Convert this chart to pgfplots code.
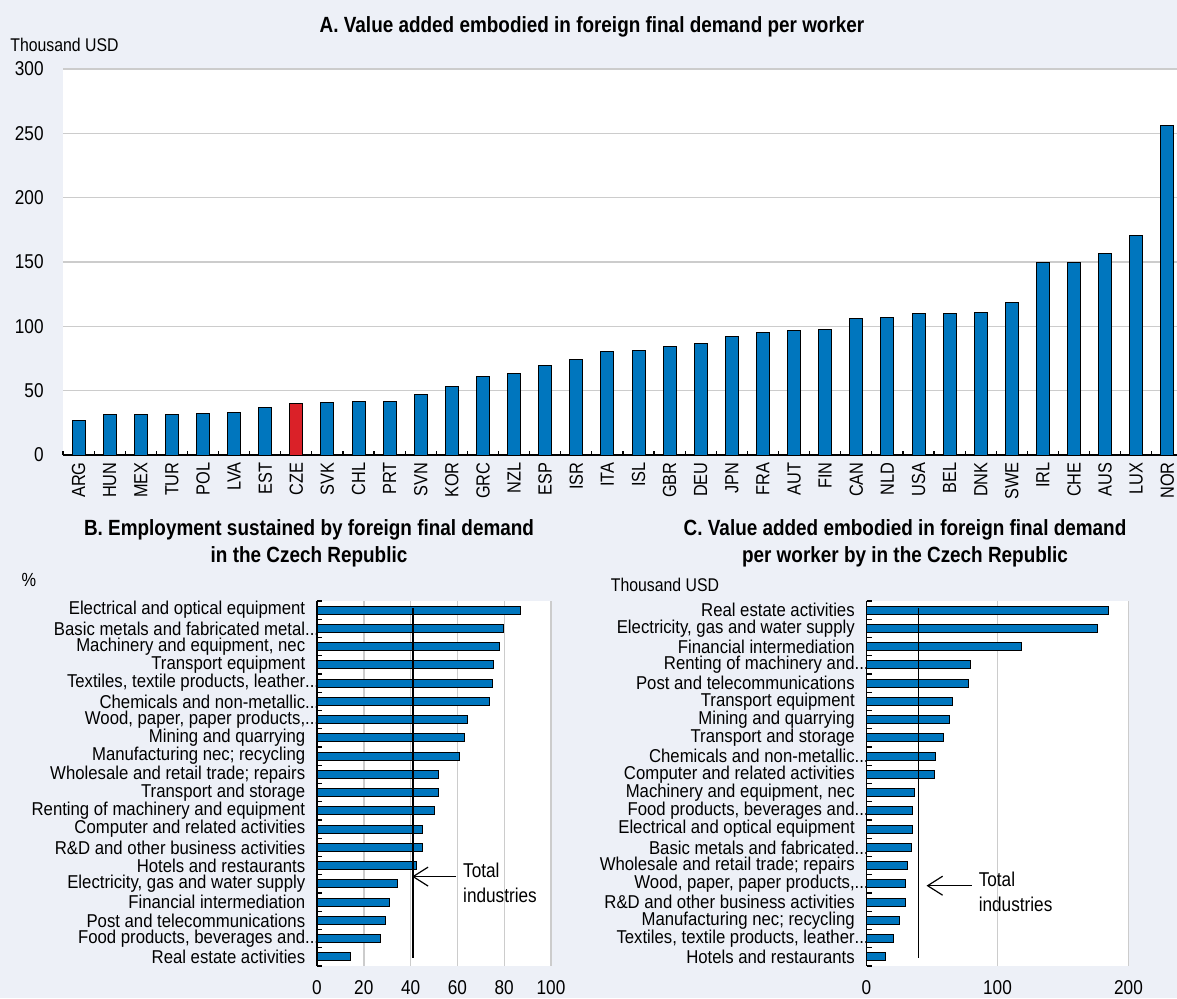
\documentclass[border=0pt]{standalone}
\usepackage{fontspec}
\setmainfont{Liberation Sans}[FakeStretch=0.86]
\newfontfamily\catfont{Liberation Sans}[FakeStretch=0.9]
\usepackage{pgfplots}
\pgfplotsset{compat=1.18}
\usetikzlibrary{arrows.meta}
\definecolor{bg}{RGB}{237,240,247}
\definecolor{oblue}{RGB}{0,118,190}
\definecolor{ored}{RGB}{218,33,40}
\definecolor{gridc}{RGB}{204,204,204}
\pgfplotsset{
  /pgf/number format/assume math mode=true,
  every minor tick/.append style={black, line width=0.6pt},
}
\begin{document}
\begin{tikzpicture}[x=1pt,y=1pt]
\fill[bg] (0,0) rectangle (588.5,499);
\useasboundingbox (0,0) rectangle (588.5,499);
% ---------- Panel A ----------
\begin{axis}[
  at={(31.5pt,271.5pt)}, anchor=south west,
  scale only axis, width=557pt, height=193pt,
  axis background/.style={fill=white},
  xmin=-0.5, xmax=35.31, ymin=0, ymax=300,
  ytick={0,50,...,300},
  ymajorgrids, grid style={gridc, line width=0.7pt},
  axis x line*=bottom, axis y line*=left,
  y axis line style={draw=none},
  x axis line style={black, line width=0.8pt},
  xtick={0,...,35},
  xticklabels={ARG,HUN,MEX,TUR,POL,LVA,EST,CZE,SVK,CHL,PRT,SVN,KOR,GRC,NZL,ESP,ISR,ITA,ISL,GBR,DEU,JPN,FRA,AUT,FIN,CAN,NLD,USA,BEL,DNK,SWE,IRL,CHE,AUS,LUX,NOR},
  minor xtick={-0.5,0.5,...,34.5},
  major tick length=0pt, minor tick length=2pt,
  tick align=inside,
  xticklabel style={font=\fontsize{9.5}{11}\selectfont, rotate=90, anchor=east, inner xsep=3.5pt, inner ysep=0pt},
  yticklabel style={font=\fontsize{10}{12}\selectfont, anchor=east, inner sep=0pt, xshift=-9.5pt},
  clip=false,
]
\addplot[ybar, bar shift=0pt, bar width=6.5pt, fill=oblue, draw=black, line width=0.5pt]
coordinates {(0,27.2) (1,31.3) (2,31.6) (3,31.6) (4,31.9) (5,33.2) (6,37.0)
 (8,40.7) (9,41.2) (10,41.7) (11,47.4) (12,53.4) (13,60.9) (14,63.5) (15,69.7)
 (16,74.4) (17,80.8) (18,81.6) (19,84.7) (20,86.5) (21,92.2) (22,95.1) (23,96.6)
 (24,97.2) (25,106.2) (26,107.0) (27,110.1) (28,110.1) (29,110.9) (30,118.4)
 (31,149.5) (32,149.5) (33,156.7) (34,170.7) (35,256.2)};
\addplot[ybar, bar shift=0pt, bar width=6.5pt, fill=ored, draw=black, line width=0.5pt]
coordinates {(7,40.2)};
\end{axis}
\node[font=\bfseries\fontsize{11}{13}\selectfont] at (296,485.5) {A. Value added embodied in foreign final demand per worker};
\node[anchor=west, inner sep=0pt, font=\fontsize{9.2}{11}\selectfont] at (5,476.5) {Thousand USD};
% ---------- Panel B ----------
\node[align=center, font=\bfseries\fontsize{11}{13.3}\selectfont] at (154.5,227.3) {B. Employment sustained by foreign final demand\\in the Czech Republic};
\node[font=\fontsize{9.5}{11}\selectfont] at (14.5,209) {\%};
\begin{axis}[
  at={(158.5pt,16pt)}, anchor=south west,
  scale only axis, width=117pt, height=182.5pt,
  axis background/.style={fill=white},
  xmin=0, xmax=100, ymin=-0.5, ymax=19.5, y dir=reverse,
  xtick={0,20,...,100},
  xmajorgrids, grid style={gridc, line width=0.7pt},
  axis x line*=bottom, axis y line*=left,
  x axis line style={draw=none},
  y axis line style={black, line width=0.8pt},
  ytick={0,...,19},
  yticklabels={{Electrical and optical equipment},{Basic metals and fabricated metal\rlap{...}},{Machinery and equipment, nec},{Transport equipment},{Textiles, textile products, leather\rlap{...}},{Chemicals and non-metallic\rlap{...}},{Wood, paper, paper products,\rlap{...}},{Mining and quarrying},{Manufacturing nec; recycling},{Wholesale and retail trade; repairs},{Transport and storage},{Renting of machinery and equipment},{Computer and related activities},{R\&D and other business activities},{Hotels and restaurants},{Electricity, gas and water supply},{Financial intermediation},{Post and telecommunications},{Food products, beverages and\rlap{...}},{Real estate activities}},
  minor ytick={-0.5,0.5,...,19.5},
  major tick length=0pt, minor tick length=2.5pt,
  tick align=inside,
  yticklabel style={font=\catfont\fontsize{9.3}{10}\selectfont, anchor=east, inner sep=0pt, xshift=-5.7pt},
  xticklabel style={font=\fontsize{10}{12}\selectfont, anchor=north, inner sep=0pt, yshift=-7pt},
  clip=false,
]
\addplot[xbar, bar shift=0pt, bar width=4pt, fill=oblue, draw=black, line width=0.5pt]
coordinates {(86.8,0) (79.9,1) (78.0,2) (75.5,3) (75.0,4) (73.7,5) (64.4,6) (63.1,7)
 (61.0,8) (51.9,9) (51.9,10) (50.2,11) (45.2,12) (44.9,13) (42.4,14) (34.3,15)
 (31.0,16) (29.2,17) (27.2,18) (14.2,19)};
\addplot[black, line width=0.8pt, mark=none] coordinates {(41.1,-0.1) (41.1,19.05)};
\draw[-{Straight Barb[length=7.5pt,width=9.5pt]}, line width=0.6pt] (axis cs:59.5,14.6) -- (axis cs:40.6,14.6);
\node[anchor=west, align=left, inner sep=0pt, font=\fontsize{10}{12.5}\selectfont] at (axis cs:62.3,14.92) {Total\\industries};
\end{axis}
% ---------- Panel C ----------
\node[align=center, font=\bfseries\fontsize{11}{13.3}\selectfont] at (452.5,227.3) {C. Value added embodied in foreign final demand\\per worker by in the Czech Republic};
\node[anchor=west, inner sep=0pt, font=\fontsize{9.2}{11}\selectfont] at (305.25,206.5) {Thousand USD};
\begin{axis}[
  at={(433.25pt,16pt)}, anchor=south west,
  scale only axis, width=131pt, height=182.5pt,
  axis background/.style={fill=white},
  xmin=0, xmax=200, ymin=-0.5, ymax=19.5, y dir=reverse,
  xtick={0,100,200},
  xmajorgrids, grid style={gridc, line width=0.7pt},
  axis x line*=bottom, axis y line*=left,
  x axis line style={draw=none},
  y axis line style={black, line width=0.8pt},
  ytick={0,...,19},
  yticklabels={{Real estate activities},{Electricity, gas and water supply},{Financial intermediation},{Renting of machinery and\rlap{...}},{Post and telecommunications},{Transport equipment},{Mining and quarrying},{Transport and storage},{Chemicals and non-metallic\rlap{...}},{Computer and related activities},{Machinery and equipment, nec},{Food products, beverages and\rlap{...}},{Electrical and optical equipment},{Basic metals and fabricated\rlap{...}},{Wholesale and retail trade; repairs},{Wood, paper, paper products,\rlap{...}},{R\&D and other business activities},{Manufacturing nec; recycling},{Textiles, textile products, leather\rlap{...}},{Hotels and restaurants}},
  minor ytick={-0.5,0.5,...,19.5},
  major tick length=0pt, minor tick length=2.5pt,
  tick align=inside,
  yticklabel style={font=\catfont\fontsize{9.3}{10}\selectfont, anchor=east, inner sep=0pt, xshift=-5.7pt},
  xticklabel style={font=\fontsize{10}{12}\selectfont, anchor=north, inner sep=0pt, yshift=-7pt},
  clip=false,
]
\addplot[xbar, bar shift=0pt, bar width=4pt, fill=oblue, draw=black, line width=0.5pt]
coordinates {(184.5,0) (176.7,1) (118.1,2) (79.0,3) (78.1,4) (65.6,5) (63.3,6) (58.6,7)
 (52.8,8) (52.2,9) (36.4,10) (35.3,11) (35.0,12) (34.1,13) (31.2,14) (29.7,15)
 (29.7,16) (25.1,17) (20.7,18) (14.3,19)};
\addplot[black, line width=0.8pt, mark=none] coordinates {(39.7,-0.1) (39.7,19.05)};
\draw[-{Straight Barb[length=7.5pt,width=9.5pt]}, line width=0.6pt] (axis cs:80.2,15.1) -- (axis cs:45.8,15.1);
\node[anchor=west, align=left, inner sep=0pt, font=\fontsize{10}{12.5}\selectfont] at (axis cs:85.4,15.45) {Total\\industries};
\end{axis}
\end{tikzpicture}
\end{document}
